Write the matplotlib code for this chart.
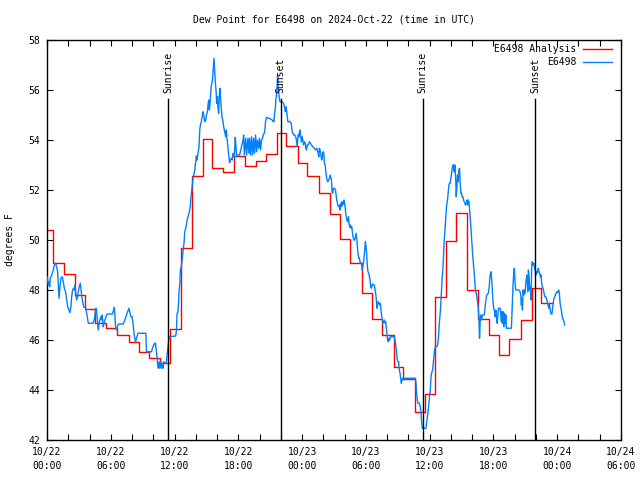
import matplotlib
matplotlib.use("Agg")
import matplotlib.pyplot as plt
from matplotlib.ticker import MultipleLocator, FixedLocator

# ---- data (hours since 2024-10-22 00:00 UTC) ----
analysis_t = [0, 0.55, 1.6, 2.6, 3.53, 4.54, 5.57, 6.6, 7.67, 8.64, 9.64, 10.6,
              11.55, 12.6, 13.65, 14.65, 15.56, 16.6, 17.56, 18.6, 19.69, 20.6,
              21.6, 22.5, 23.6, 24.5, 25.6, 26.6, 27.6, 28.55, 29.6, 30.55, 31.5,
              32.6, 33.5, 34.6, 35.6, 36.5, 37.5, 38.5, 39.5, 40.5, 41.6, 42.5,
              43.5, 44.6, 45.6, 46.5, 47.6]
analysis_v = [50.4, 49.07, 48.63, 47.8, 47.23, 46.67, 46.47, 46.2, 45.93, 45.53, 45.27, 45.1,
              46.43, 49.67, 52.57, 54.03, 52.87, 52.73, 53.37, 52.96, 53.16, 53.43,
              54.27, 53.76, 53.09, 52.56, 51.87, 51.04, 50.03, 49.1, 47.87, 46.83, 46.2,
              44.91, 44.45, 43.13, 43.84, 47.73, 49.97, 51.07, 48.0, 46.83, 46.2, 45.4,
              46.03, 46.8, 48.1, 47.47, 47.47]

obs_t = [0.0, 0.06, 0.13, 0.19, 0.25, 0.31, 0.44, 0.59, 0.69, 0.81, 0.91, 1.0, 1.06, 1.13, 1.22,
         1.31, 1.44, 1.53, 1.63, 1.75, 1.85, 1.94, 2.07, 2.16, 2.25, 2.32, 2.41, 2.5, 2.57, 2.63,
         2.69, 2.79, 2.88, 2.94, 3.04, 3.13, 3.19, 3.26, 3.35, 3.47, 3.63, 3.79, 3.88, 4.35, 4.44,
         4.51, 4.6, 4.66, 4.76, 4.82, 4.91, 4.98, 5.07, 5.13, 5.2, 5.29, 5.38, 5.45, 5.6, 5.7,
         6.17, 6.26, 6.32, 6.38, 6.45, 6.54, 6.7, 7.17, 7.32, 7.48, 7.64, 7.7, 7.79, 7.89, 8.01,
         8.11, 8.2, 8.33, 8.42, 8.51, 8.58, 9.3,
         9.36, 9.83, 9.92, 10.05, 10.14, 10.2, 10.3, 10.39, 10.45, 10.55, 10.61, 10.7, 10.77,
         10.86, 10.92, 10.99, 11.08, 11.24, 11.33, 11.42, 11.49, 12.11, 12.18, 12.24, 12.33,
         12.43, 12.49, 12.55, 12.64, 12.74, 12.8, 12.9, 12.96, 13.05, 13.11, 13.18, 13.27,
         13.36, 13.43, 13.49, 13.55, 13.62, 13.68, 13.74, 13.8, 13.9, 13.99, 14.05, 14.11,
         14.21, 14.3, 14.37, 14.43, 14.52, 14.62, 14.68, 14.77, 14.84, 14.93, 15.0, 15.09,
         15.15, 15.21, 15.28, 15.34, 15.4, 15.46, 15.52, 15.59, 15.65, 15.71, 15.77, 15.84,
         15.9, 15.96, 16.03, 16.09, 16.15, 16.21, 16.28, 16.34, 16.4, 16.46, 16.56, 16.62,
         16.71, 16.81, 16.87, 16.93, 16.99, 17.06, 17.12, 17.18, 17.24, 17.34, 17.43, 17.49,
         17.59, 17.65, 17.71, 17.78, 17.84, 17.96, 18.12,
         18.44, 18.5, 18.56, 18.69, 18.78, 18.9, 19.0, 19.06, 19.15, 19.25, 19.34, 19.44,
         19.53, 19.62, 19.72, 19.81, 19.91, 20.0, 20.09, 20.19, 20.28, 20.34, 20.44, 20.5,
         20.56, 20.63, 20.69, 20.81, 20.94, 21.06, 21.19, 21.28, 21.35, 21.41, 21.47, 21.53,
         21.6, 21.66, 21.69, 21.75, 21.78, 21.85, 21.91, 22.13, 22.25, 22.35, 22.41, 22.5,
         22.57, 22.66, 22.76, 22.88, 22.97, 23.07, 23.13, 23.22, 23.32, 23.44, 23.54, 23.63,
         23.69, 23.76, 23.82, 23.88, 23.94, 24.01, 24.07, 24.13, 24.23, 24.29, 24.35, 24.41,
         24.48, 24.57, 24.69, 24.79, 24.88, 25.01, 25.13, 25.26, 25.38, 25.48, 25.57,
         25.63, 25.73, 25.79, 25.85, 25.92, 25.98, 26.04, 26.1, 26.17, 26.23, 26.29, 26.35,
         26.42, 26.51, 26.57, 26.64, 26.71, 26.76, 26.82, 26.88, 26.95, 27.04, 27.14, 27.2,
         27.26, 27.36, 27.45, 27.51, 27.57, 27.64, 27.7, 27.76, 27.82, 27.89, 27.95, 28.01,
         28.08, 28.14, 28.22, 28.29, 28.36, 28.42, 28.48, 28.54, 28.61, 28.67, 28.73, 28.79,
         28.86, 28.95, 29.01, 29.08, 29.14, 29.2, 29.25, 29.33, 29.39, 29.45, 29.51, 29.58,
         29.64, 29.7, 29.77, 29.83, 29.89, 29.95, 30.02, 30.08, 30.14, 30.2, 30.27, 30.33,
         30.39, 30.45, 30.52, 30.58, 30.64, 30.7, 30.8, 30.86, 30.92, 30.99, 31.05, 31.11,
         31.17, 31.24, 31.3, 31.36, 31.42, 31.49, 31.55, 31.61, 31.67, 31.74, 31.8, 31.86,
         31.92, 31.99, 32.05, 32.11, 32.17, 32.24, 32.3, 32.68, 32.77, 32.83, 32.9, 32.96,
         33.02, 33.08, 33.15, 33.21, 33.27, 33.33, 33.4, 33.46, 33.52, 33.62, 34.65, 34.71,
         34.77, 34.84, 34.9, 35.02, 35.12, 35.18, 35.24, 35.31, 35.65,
         35.71, 35.8, 35.87, 35.93, 35.99, 36.06, 36.12, 36.18, 36.28, 36.34, 36.41, 36.46,
         36.53, 36.68, 36.74, 36.81, 36.87, 36.93, 36.99, 37.06, 37.12, 37.18, 37.24, 37.31,
         37.37, 37.43, 37.5, 37.56, 37.62, 37.68, 37.75, 37.81, 37.87, 37.93, 38.0, 38.06,
         38.12, 38.18, 38.25, 38.31, 38.37, 38.44, 38.5, 38.56, 38.62, 38.69, 38.75, 38.81,
         38.87, 38.94, 39.0, 39.06, 39.12, 39.19, 39.25, 39.31, 39.37, 39.44, 39.5, 39.56,
         39.62, 39.69, 39.75, 39.81, 39.87, 39.94, 40.0, 40.06, 40.13, 40.19, 40.25, 40.31,
         40.38, 40.44, 40.5, 40.56, 40.63, 40.66, 40.69, 40.72, 40.75, 40.81, 40.88, 40.97,
         41.13, 41.19, 41.25, 41.31, 41.38, 41.44, 41.53, 41.6, 41.66, 41.72, 41.78, 41.85,
         41.91, 41.97, 42.03, 42.1, 42.16, 42.22, 42.28, 42.35, 42.41, 42.47, 42.54,
         42.63, 42.69, 42.75, 42.78, 42.85, 42.91, 42.97, 43.04, 43.1, 43.16, 43.22, 43.69,
         43.72, 43.79, 43.85, 43.91, 43.97, 44.04, 44.1, 44.41, 44.51, 44.57, 44.63, 44.66,
         44.73, 44.79, 44.85, 44.91, 44.98, 45.04, 45.1, 45.16, 45.23, 45.29, 45.35, 45.41,
         45.48, 45.54, 45.6, 45.66, 45.73, 45.79, 45.85, 45.92, 45.98, 46.04, 46.1, 46.17,
         46.23, 46.29, 46.35, 46.42, 46.48, 46.54, 46.6, 46.67, 46.73, 46.79, 46.85, 46.92,
         46.98, 47.07, 47.14, 47.2, 47.26, 47.32, 47.39, 47.45, 47.51, 47.57, 47.64, 47.7,
         47.76, 47.82, 47.89, 47.95, 48.01, 48.07, 48.14, 48.2, 48.26, 48.32, 48.39, 48.45,
         48.51, 48.57, 48.64, 48.7]
obs_v = [48.53, 48.4, 48.2, 48.33, 48.13, 48.47, 48.6, 48.8, 49.0, 49.07, 48.93, 48.73, 48.27, 47.67, 48.13,
         48.47, 48.53, 48.33, 48.07, 47.93, 47.6, 47.33, 47.2, 47.09, 47.33, 47.73, 48.0, 48.07, 48.0, 48.2,
         47.93, 47.6, 47.73, 47.93, 48.13, 48.27, 48.07, 47.8, 47.53, 47.31, 47.31, 46.93, 46.67, 46.67, 46.8,
         47.0, 47.27, 47.2, 46.67, 46.4, 46.67, 46.8, 46.93, 46.8, 47.0, 46.53, 46.67, 46.8, 47.0, 47.04,
         47.04, 47.2, 47.31, 47.07, 46.53, 46.4, 46.64, 46.64, 46.8, 47.0, 47.2, 47.27, 47.13, 46.93, 46.93,
         46.6, 46.2, 45.93, 46.07, 46.2, 46.27, 46.27,
         45.53, 45.53, 45.67, 45.8, 45.87, 45.87, 45.53, 45.13, 44.87, 45.13, 44.87, 45.13, 44.87,
         45.07, 44.87, 45.13, 45.07, 45.13, 45.53, 45.87, 46.13, 46.16, 46.4, 47.07, 47.13,
         48.0, 48.2, 48.8, 48.93, 49.33, 49.6, 49.93, 50.33, 50.47, 50.6, 50.8, 50.93,
         51.07, 51.2, 51.4, 51.73, 52.0, 52.27, 52.47, 52.6, 52.8, 53.13, 53.36, 53.2,
         53.47, 53.73, 54.4, 54.6, 54.73, 55.0, 55.13, 54.93, 54.73, 54.8, 55.0, 55.13,
         55.4, 55.6, 55.2, 55.47, 55.87, 56.2, 56.27, 56.53, 56.93, 57.27, 56.8, 56.27,
         56.0, 55.47, 55.73, 55.27, 55.07, 55.8, 56.07, 55.6, 55.27, 54.93, 54.73, 54.53,
         54.33, 54.13, 54.4, 54.07, 53.87, 53.53, 53.33, 53.09, 53.2, 53.27, 53.2, 53.47,
         53.33, 53.53, 54.11, 53.73, 53.33, 53.4, 53.4,
         54.0, 54.2, 53.4, 54.07, 53.4, 54.07, 53.47, 54.07, 53.4, 54.13, 53.4, 54.07,
         53.47, 54.2, 53.53, 54.0, 53.67, 54.07, 53.6, 54.0, 54.07, 54.2, 54.27, 54.4,
         54.73, 54.87, 54.91, 54.87, 54.87, 54.83, 54.8, 54.73, 54.73, 55.07, 55.2, 55.6,
         55.87, 56.2, 56.6, 56.07, 55.93, 55.73, 55.53, 55.53, 55.47, 55.33, 55.13, 55.33,
         55.07, 54.73, 54.73, 54.73, 54.67, 54.33, 54.27, 54.2, 54.2, 54.07, 53.73, 54.2,
         54.13, 54.33, 54.4, 54.07, 53.93, 54.13, 54.0, 53.8, 53.93, 53.87, 53.67, 53.6,
         53.8, 53.8, 53.93, 53.87, 53.8, 53.73, 53.67, 53.6, 53.67, 53.53, 53.33,
         53.67, 53.53, 53.33, 53.2, 53.4, 53.53, 53.47, 53.07, 53.0, 52.73, 52.53, 52.4,
         52.33, 52.4, 52.47, 52.6, 52.47, 52.4, 51.93, 51.87, 52.07, 52.07, 52.0, 51.8,
         51.6, 51.4, 51.33, 51.4, 51.2, 51.47, 51.33, 51.53, 51.4, 51.53, 51.6, 51.4,
         51.2, 50.93, 50.8, 50.73, 50.93, 50.67, 50.51, 50.6, 50.47, 50.53, 50.33, 50.13,
         50.0, 50.0, 50.13, 50.27, 50.07, 49.73, 49.47, 49.27, 49.27, 49.13, 49.07, 49.07,
         48.8, 48.93, 49.07, 49.33, 49.6, 49.93, 49.73, 49.4, 48.93, 48.73, 48.67, 48.53,
         48.4, 48.13, 48.07, 48.2, 48.24, 48.2, 48.2, 48.0, 47.87, 47.6, 47.27, 47.47,
         47.53, 47.47, 47.4, 47.47, 47.2, 46.93, 46.8, 46.67, 46.73, 46.8, 46.67, 46.73,
         46.47, 46.2, 46.0, 45.93, 46.07, 46.0, 46.13, 46.13, 45.93, 45.73, 45.47, 45.2,
         45.13, 45.13, 44.8, 44.67, 44.47, 44.27, 44.4, 44.47, 44.4, 44.47, 44.47, 44.27,
         43.87, 43.6, 43.47, 43.47, 43.33, 43.13, 42.73, 42.47, 42.47,
         42.67, 43.0, 43.2, 43.47, 43.73, 44.0, 44.47, 44.67, 44.8, 45.07, 45.4, 45.6,
         45.73, 45.73, 45.8, 46.0, 46.4, 46.8, 47.07, 47.53, 48.0, 48.53, 48.8, 49.4,
         50.0, 50.33, 50.8, 51.2, 51.47, 51.6, 51.93, 52.2, 52.27, 52.27, 52.47, 52.67,
         52.87, 53.0, 53.0, 52.73, 53.0, 52.53, 51.73, 52.13, 52.6, 52.33, 52.8, 52.87,
         52.27, 51.87, 51.87, 51.73, 51.73, 51.6, 51.53, 51.47, 51.4, 51.47, 51.6, 51.4,
         51.6, 51.53, 51.27, 50.93, 50.53, 50.13, 49.73, 49.33, 49.0, 48.67, 48.33, 48.0,
         47.87, 47.73, 47.53, 47.33, 46.93, 46.53, 46.07, 46.33, 46.8, 47.0, 46.8, 47.0,
         47.0, 47.2, 47.47, 47.67, 47.8, 47.84, 47.87, 48.13, 48.47, 48.67, 48.73, 48.33,
         47.87, 47.47, 47.27, 47.13, 46.93, 47.2, 46.93, 46.67, 46.93, 47.27, 47.27,
         47.27, 47.07, 46.73, 47.13, 46.67, 47.13, 46.53, 47.07, 46.67, 47.0, 46.47, 46.47,
         46.8, 47.67, 48.27, 48.67, 48.87, 48.27, 48.0, 48.0, 47.93, 47.8, 47.4, 47.67,
         47.2, 48.0, 47.8, 48.0, 47.87, 48.27, 48.47, 48.6, 47.93, 48.8, 48.53, 48.0,
         48.13, 47.6, 49.0, 49.13, 49.0, 49.07, 48.93, 48.8, 48.6, 48.73, 48.67, 48.8,
         48.87, 48.73, 48.67, 48.53, 48.6, 48.27, 48.13, 48.07, 47.93, 47.8, 47.73, 47.73,
         47.67, 47.53, 47.4, 47.27, 47.47, 47.27, 47.07, 47.04, 47.04, 47.33, 47.53, 47.67,
         47.73, 47.8, 47.87, 47.93, 47.89, 47.93, 48.0, 47.87, 47.53, 47.33, 47.2, 47.0,
         46.87, 46.8, 46.73, 46.6]

sun_events = ["Sunrise", "Sunset", "Sunrise", "Sunset"]
sun_times = [11.38, 21.97, 35.33, 45.94]

xtick_hours = [0, 6, 12, 18, 24, 30, 36, 42, 48, 54]
xtick_labels = ["10/22\n00:00", "10/22\n06:00", "10/22\n12:00", "10/22\n18:00",
                "10/23\n00:00", "10/23\n06:00", "10/23\n12:00", "10/23\n18:00",
                "10/24\n00:00", "10/24\n06:00"]

FONT = "DejaVu Sans Mono"
FS = 7

plt.rcParams['font.family'] = FONT
plt.rcParams['font.size'] = FS

fig = plt.figure(figsize=(6.4, 4.8), dpi=100)
ax = fig.add_axes([47/640, 40/480, 574/640, 400/480])

ax.plot(analysis_t, analysis_v, drawstyle="steps-post", color="#ff0000", lw=1.0,
        label="E6498 Analysis", zorder=2)
ax.plot(obs_t, obs_v, color="#0080ff", lw=1.0, label="E6498", zorder=3)

for name, t in zip(sun_events, sun_times):
    ax.plot([t, t], [42, 55.65], color="black", lw=1.0, zorder=4)
    ax.text(t, 55.88, name, rotation=90, ha="center", va="bottom",
            fontsize=FS, family=FONT, zorder=5)

ax.set_xlim(0, 54)
ax.set_ylim(42, 58)
ax.xaxis.set_major_locator(FixedLocator(xtick_hours))
ax.set_xticklabels(xtick_labels)
for lbl in ax.get_xticklabels():
    lbl.set_linespacing(1.45)
ax.xaxis.set_minor_locator(MultipleLocator(2))
ax.yaxis.set_major_locator(MultipleLocator(2))
ax.tick_params(which="both", direction="in", top=True, right=True, length=4.5,
               width=0.8, labelsize=FS)
ax.tick_params(axis="x", pad=5)
ax.tick_params(axis="y", pad=5)
for s in ax.spines.values():
    s.set_linewidth(1.0)

leg = ax.legend(loc="upper right", bbox_to_anchor=(612/640, 1 - 44/480),
                bbox_transform=fig.transFigure, markerfirst=False, frameon=False,
                borderaxespad=0, borderpad=0, handlelength=3.0, handletextpad=0.7,
                labelspacing=0.35, fontsize=FS)

fig.text(334/640, 1 - 19/480, "Dew Point for E6498 on 2024-Oct-22 (time in UTC)",
         ha="center", va="center", fontsize=FS)
fig.text(10/640, 0.5, "degrees F", rotation=90, ha="center", va="center", fontsize=FS)

fig.savefig("out.png", dpi=100)
